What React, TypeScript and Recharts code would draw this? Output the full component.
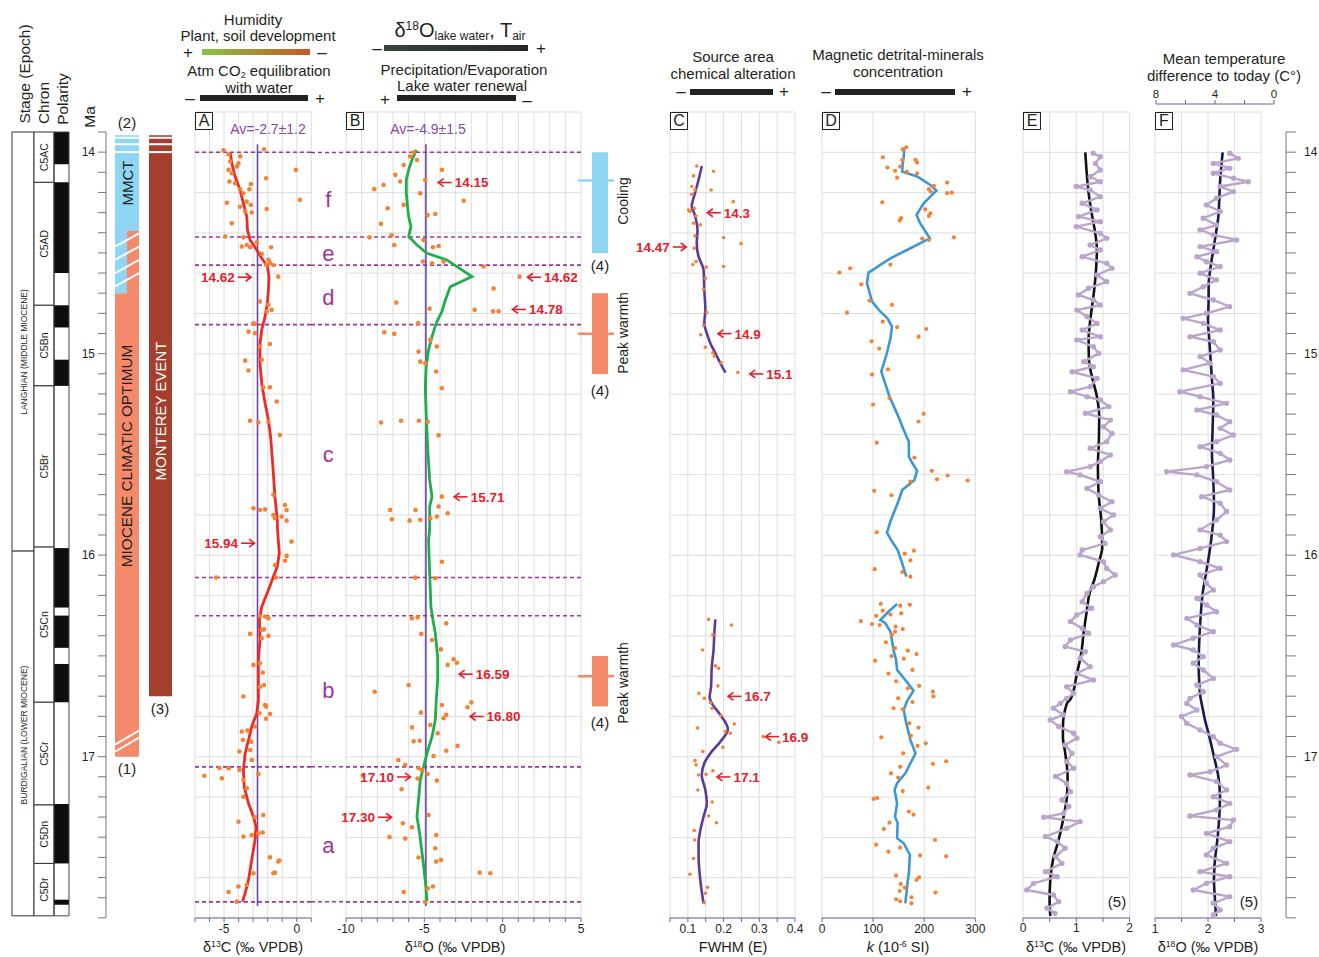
import React from "react";
import {
  ComposedChart,
  Scatter,
  Line,
  XAxis,
  YAxis,
  CartesianGrid,
  ReferenceLine,
  ReferenceArea,
} from "recharts";

const FONT = '"Liberation Sans", Arial, Helvetica, sans-serif';
const NARROW = '"Liberation Sans Narrow", "Liberation Sans", Arial, sans-serif';

const INK = "#231f20";
const ORANGE = "#f58232";
const RED = "#ee2a24";
const GREEN = "#1fae4b";
const AV_LINE = "#6c45ad";
const AV_TEXT = "#7e4ea8";
const ZONE = "#a0339c";
const C_LINE = "#5c3a9c";
const D_LINE = "#3c97d3";
const LILAC = "#bba5cb";
const AXIS = "#6b64a8";
const GRID = "#dedede";
const BLUE_BAR = "#8fd6f5";
const SALMON = "#f48a6a";
const BRICK = "#a53f2d";
const ARROW = "#e5202a";

// shared age scale (Ma grows downwards)
const MA_TOP = 13.8;
const MA_BOTTOM = 17.8;
const Y_TOP = 112;
const PX_PER_MA = 201.5;
const yOf = (ma: number) => Y_TOP + (ma - MA_TOP) * PX_PER_MA;

const steps = (from: number, to: number, step: number) => {
  const out: number[] = [];
  for (let t = from; t <= to + step / 2; t += step) out.push(Math.round(t * 100) / 100);
  return out;
};

const GRID_MA = steps(13.8, 17.8, 0.2);
const AGE_TICKS = steps(13.9, 17.8, 0.1);

type Row = [number, number];
const pts = (rows: Row[]) => rows.map(([ma, v]) => ({ ma, v }));

// ---- stratigraphy ----
const stages = [
  { name: "LANGHIAN (MIDDLE MIOCENE)", from: 13.9, to: 15.98 },
  { name: "BURDIGALIAN (LOWER MIOCENE)", from: 15.98, to: 17.79 },
];
const chrons = [
  { name: "C5AC", from: 13.9, to: 14.15 },
  { name: "C5AD", from: 14.15, to: 14.76 },
  { name: "C5Bn", from: 14.76, to: 15.16 },
  { name: "C5Br", from: 15.16, to: 15.96 },
  { name: "C5Cn", from: 15.96, to: 16.73 },
  { name: "C5Cr", from: 16.73, to: 17.24 },
  { name: "C5Dn", from: 17.24, to: 17.53 },
  { name: "C5Dr", from: 17.53, to: 17.79 },
];
const normalPolarity: Row[] = [
  [13.9, 14.06], [14.15, 14.6], [14.76, 14.87], [15.03, 15.16], [15.965, 16.26],
  [16.3, 16.46], [16.54, 16.73], [17.235, 17.53], [17.71, 17.735],
];

// ---- climate events ----
const mmct = { left: [13.915, 14.7] as Row, right: [13.915, 14.39] as Row };
const mco = { left: [14.7, 17.0] as Row, right: [14.39, 17.0] as Row };
const monterey: Row = [13.915, 16.7];
const barTopStripes = [13.928, 13.96, 13.999];
const transitionStripes = [14.402, 14.468, 14.534, 14.6];
const mcoEndStripes = [16.87, 16.905];
const coolingSpans = [{ from: 14.0, to: 14.5, mid: 14.14, fill: BLUE_BAR }];
const warmSpans = [
  { from: 14.7, to: 15.1, mid: 14.9, fill: SALMON },
  { from: 16.5, to: 16.75, mid: 16.6, fill: SALMON },
];

// ---- zones a-f ----
const zoneBounds = [14.0, 14.42, 14.56, 14.855, 16.11, 16.3, 17.05, 17.72];
const zoneLetters = [
  { ma: 14.23, label: "f" }, { ma: 14.5, label: "e" }, { ma: 14.72, label: "d" },
  { ma: 15.5, label: "c" }, { ma: 16.67, label: "b" }, { ma: 17.44, label: "a" },
];

// ---- A: d13C carbonates ----
const a13cAverage = -2.7;
const a13cTrend: Row[] = [
  [14.0, -4.58], [14.054, -4.47], [14.12, -4.24], [14.187, -3.9], [14.253, -3.67], [14.319, -3.44],
  [14.385, -3.39], [14.435, -3.21], [14.485, -2.75], [14.526, -2.41], [14.567, -2.02], [14.617, -1.91],
  [14.683, -1.95], [14.749, -2.02], [14.815, -2.18], [14.882, -2.41], [14.948, -2.53], [15.047, -2.53],
  [15.146, -2.41], [15.245, -2.18], [15.328, -1.95], [15.411, -1.8], [15.543, -1.66], [15.709, -1.5],
  [15.824, -1.34], [15.874, -1.32], [15.924, -1.27], [15.99, -1.2], [16.056, -1.34], [16.106, -1.61],
  [16.172, -1.95], [16.255, -2.41], [16.321, -2.57], [16.42, -2.53], [16.52, -2.64], [16.619, -2.64],
  [16.718, -2.64], [16.784, -2.75], [16.85, -3.1], [16.917, -3.32], [16.983, -3.55], [17.065, -3.67],
  [17.148, -3.62], [17.231, -3.32], [17.297, -2.98], [17.347, -2.8], [17.413, -2.87], [17.512, -3.1],
  [17.611, -3.32], [17.677, -3.55], [17.719, -3.73],
];
const a13cSamples: Row[] = [
  [13.99, -5.04], [14.01, -4.69], [14.02, -3.89], [13.985, -2.25], [14.055, -4.01], [14.046, -4.58],
  [14.087, -4.69], [14.104, -4.47], [14.071, -4.12], [14.087, -0.06], [14.129, -2.11], [14.145, -4.63],
  [14.154, -4.24], [14.183, -3.9], [14.157, -3.16], [14.183, -3.26], [14.203, -3.67], [14.236, 0.21],
  [14.25, -4.81], [14.245, -3.44], [14.261, -3.16], [14.27, -3.9], [14.281, -2.07], [14.294, -3.55],
  [14.299, -3.1], [14.352, -4.47], [14.418, -4.92], [14.422, -3.67], [14.468, -3.78], [14.46, -3.44],
  [14.471, -3.21], [14.448, -2.75], [14.504, -2.41], [14.471, -1.77], [14.534, -1.95], [14.55, -1.84],
  [14.559, -2.11], [14.559, -1.61], [14.617, -1.27], [14.741, -2.53], [14.757, -1.95], [14.782, -1.73],
  [14.79, -2.07], [14.848, -2.98], [14.852, -2.87], [14.89, -3.32], [14.898, -2.87], [14.964, -2.53],
  [14.951, -1.84], [15.034, -3.55], [15.083, -3.32], [15.03, -2.41], [15.166, -2.3], [15.166, -1.84],
  [15.237, -1.38], [15.332, -3.21], [15.341, -2.64], [15.337, -1.95], [15.403, -1.16], [15.767, -2.98],
  [15.775, -2.53], [15.772, -2.18], [15.7, -1.61], [15.75, -0.81], [15.775, -0.7], [15.8, -1.61],
  [15.808, -1.04], [15.828, -0.7], [15.816, -1.5], [15.932, -0.36], [16.003, -0.7], [16.027, -0.81],
  [16.048, -1.5], [16.11, -5.54], [16.11, -1.43], [16.301, -2.53], [16.304, -2.18], [16.313, -1.95],
  [16.371, -2.41], [16.367, -2.25], [16.39, -3.21], [16.4, -1.95], [16.412, -2.41], [16.544, -2.98],
  [16.536, -2.53], [16.582, -2.34], [16.701, -3.67], [16.652, -2.53], [16.644, -2.25], [16.743, -2.18],
  [16.751, -2.11], [16.788, -1.84], [16.784, -2.57], [16.811, -2.11], [16.875, -3.78], [16.87, -3.39],
  [16.85, -2.87], [16.917, -3.71], [16.925, -3.14], [16.974, -3.94], [16.966, -3.21], [17.016, -3.1],
  [17.057, -5.31], [17.057, -4.69], [17.065, -3.94], [17.094, -6.36], [17.107, -5.15], [17.085, -2.64],
  [17.115, -3.67], [17.156, -3.44], [17.198, -3.67], [17.322, -4.01], [17.3, -2.87], [17.289, -2.3],
  [17.396, -3.67], [17.388, -3.1], [17.38, -2.64], [17.376, -2.34], [17.499, -1.84], [17.515, -1.2],
  [17.52, -1.27], [17.575, -1.5], [17.578, -1.61], [17.578, -2.98], [17.636, -3.44], [17.644, -4.01],
  [17.671, -4.69], [17.719, -4.12],
];
const a13cNotes = [
  { ma: 14.62, dec: 2, v: -3.1, dir: "right" },
  { ma: 15.94, dec: 2, v: -2.87, dir: "right" },
];

// ---- B: d18O carbonates ----
const b18oAverage = -4.9;
const b18oTrend: Row[] = [
  [13.988, -5.51], [14.038, -5.79], [14.087, -6.0], [14.137, -6.15], [14.203, -6.15], [14.27, -6.07],
  [14.319, -6.0], [14.369, -5.85], [14.418, -6.0], [14.46, -5.47], [14.501, -4.83], [14.534, -3.56],
  [14.567, -2.92], [14.617, -1.96], [14.667, -3.34], [14.733, -3.66], [14.79, -3.88], [14.848, -4.24],
  [14.915, -4.51], [14.981, -4.73], [15.063, -4.88], [15.163, -4.94], [15.295, -4.88], [15.46, -4.79],
  [15.626, -4.66], [15.709, -4.51], [15.758, -4.66], [15.874, -4.66], [15.924, -4.73], [16.089, -4.66],
  [16.255, -4.58], [16.321, -4.45], [16.387, -4.3], [16.503, -4.15], [16.619, -4.15], [16.718, -4.24],
  [16.817, -4.3], [16.9, -4.51], [16.983, -4.83], [17.049, -5.05], [17.115, -5.26], [17.214, -5.37],
  [17.297, -5.47], [17.38, -5.3], [17.512, -5.09], [17.628, -4.92], [17.719, -4.83],
];
const b18oSamples: Row[] = [
  [14.0, -5.68], [14.021, -5.9], [14.038, -5.47], [14.063, -6.32], [14.112, -6.85], [14.145, -6.54],
  [14.162, -7.6], [14.183, -8.2], [14.087, -3.88], [14.137, -4.94], [14.203, -5.26], [14.241, -2.49],
  [14.261, -6.32], [14.278, -7.34], [14.306, -4.3], [14.311, -4.79], [14.355, -7.77], [14.422, -8.49],
  [14.412, -7.09], [14.46, -6.92], [14.435, -5.05], [14.471, -4.45], [14.465, -4.09], [14.542, -5.09],
  [14.551, -4.51], [14.542, -3.77], [14.567, -1.22], [14.617, 1.08], [14.676, -0.58], [14.746, -6.79],
  [14.776, -4.66], [14.782, -1.79], [14.789, -0.62], [14.789, -0.26], [14.848, -5.39], [14.893, -7.56],
  [14.901, -6.92], [14.931, -4.62], [14.964, -4.2], [14.989, -5.37], [15.039, -5.26], [15.047, -4.94],
  [15.088, -4.24], [15.171, -3.88], [15.341, -7.77], [15.332, -6.49], [15.332, -5.34], [15.337, -4.79],
  [15.404, -4.09], [15.709, -3.88], [15.775, -7.18], [15.775, -5.56], [15.758, -4.09], [15.791, -3.51],
  [15.821, -7.07], [15.828, -5.94], [15.824, -5.26], [15.816, -4.62], [15.808, -4.2], [16.032, -3.88],
  [16.111, -5.58], [16.114, -4.3], [16.313, -5.79], [16.308, -5.43], [16.338, -3.6], [16.39, -5.2],
  [16.42, -4.51], [16.467, -3.94], [16.516, -3.13], [16.533, -2.92], [16.544, -3.51], [16.644, -6.0],
  [16.677, -8.17], [16.743, -3.88], [16.754, -2.24], [16.73, -2.0], [16.781, -5.22], [16.792, -3.6],
  [16.809, -3.77], [16.854, -5.79], [16.842, -4.62], [16.92, -5.3], [16.923, -5.68], [16.883, -4.15],
  [16.946, -2.88], [16.97, -3.6], [16.996, -4.41], [17.016, -6.66], [17.041, -6.22], [17.057, -5.37],
  [17.065, -5.15], [17.094, -8.92], [17.108, -5.43], [17.085, -4.79], [17.118, -4.2], [17.161, -6.45],
  [17.289, -4.73], [17.33, -6.37], [17.35, -5.79], [17.398, -7.22], [17.406, -6.22], [17.388, -4.24],
  [17.454, -4.3], [17.5, -5.37], [17.52, -4.24], [17.512, -3.94], [17.575, -1.47], [17.578, -0.79],
  [17.671, -6.32], [17.644, -4.45], [17.653, -4.79], [17.719, -4.94],
];
const b18oNotes = [
  { ma: 14.15, dec: 2, v: -4.15, dir: "left" },
  { ma: 14.62, dec: 2, v: 1.55, dir: "left" },
  { ma: 14.78, dec: 2, v: 0.59, dir: "left" },
  { ma: 15.71, dec: 2, v: -3.13, dir: "left" },
  { ma: 16.59, dec: 2, v: -2.81, dir: "left" },
  { ma: 16.8, dec: 2, v: -2.11, dir: "left" },
  { ma: 17.1, dec: 2, v: -5.85, dir: "right" },
  { ma: 17.3, dec: 2, v: -7.06, dir: "right" },
];

// ---- C: clay crystallinity (FWHM) ----
const fwhmUpper: Row[] = [
  [14.068, 0.139], [14.137, 0.13], [14.203, 0.12], [14.27, 0.111], [14.303, 0.118], [14.336, 0.123],
  [14.385, 0.127], [14.451, 0.125], [14.518, 0.13], [14.584, 0.144], [14.683, 0.146], [14.782, 0.149],
  [14.848, 0.146], [14.898, 0.153], [14.948, 0.163], [14.997, 0.177], [15.047, 0.191], [15.093, 0.205],
];
const fwhmLower: Row[] = [
  [16.318, 0.177], [16.387, 0.174], [16.47, 0.172], [16.552, 0.167], [16.652, 0.165], [16.705, 0.161],
  [16.734, 0.167], [16.792, 0.191], [16.863, 0.212], [16.925, 0.191], [16.983, 0.163], [17.032, 0.146],
  [17.09, 0.139], [17.165, 0.149], [17.231, 0.153], [17.297, 0.144], [17.363, 0.135], [17.429, 0.13],
  [17.495, 0.13], [17.578, 0.133], [17.644, 0.137], [17.727, 0.144],
];
const fwhmSamples: Row[] = [
  [14.068, 0.125], [14.094, 0.172], [14.117, 0.116], [14.17, 0.111], [14.187, 0.12], [14.187, 0.165],
  [14.208, 0.111], [14.245, 0.227], [14.286, 0.102], [14.278, 0.118], [14.294, 0.106], [14.316, 0.123],
  [14.352, 0.116], [14.36, 0.135], [14.415, 0.12], [14.423, 0.2], [14.453, 0.249], [14.476, 0.118],
  [14.557, 0.114], [14.542, 0.123], [14.57, 0.151], [14.567, 0.2], [14.625, 0.149], [14.68, 0.144],
  [14.794, 0.153], [14.857, 0.144], [14.906, 0.136], [14.968, 0.149], [14.994, 0.17], [15.011, 0.174],
  [15.044, 0.193], [15.093, 0.24], [16.318, 0.158], [16.346, 0.222], [16.395, 0.17], [16.47, 0.141],
  [16.549, 0.177], [16.561, 0.186], [16.648, 0.184], [16.685, 0.131], [16.71, 0.146], [16.731, 0.163],
  [16.759, 0.168], [16.794, 0.193], [16.837, 0.23], [16.857, 0.127], [16.875, 0.205], [16.883, 0.219],
  [16.9, 0.311], [16.928, 0.355], [16.953, 0.198], [16.974, 0.142], [17.019, 0.12], [17.04, 0.123],
  [17.069, 0.17], [17.09, 0.13], [17.087, 0.151], [17.165, 0.128], [17.224, 0.168], [17.294, 0.158],
  [17.327, 0.18], [17.366, 0.118], [17.413, 0.119], [17.505, 0.116], [17.583, 0.106], [17.648, 0.155],
  [17.677, 0.149], [17.724, 0.146],
];
const fwhmNotes = [
  { ma: 14.3, dec: 1, v: 0.153, dir: "left" },
  { ma: 14.47, dec: 2, v: 0.097, dir: "right" },
  { ma: 14.9, dec: 1, v: 0.183, dir: "left" },
  { ma: 15.1, dec: 1, v: 0.272, dir: "left" },
  { ma: 16.7, dec: 1, v: 0.211, dir: "left" },
  { ma: 16.9, dec: 1, v: 0.316, dir: "left" },
  { ma: 17.1, dec: 1, v: 0.18, dir: "left" },
];

// ---- D: magnetic susceptibility ----
const kUpper: Row[] = [
  [13.975, 161], [14.021, 160], [14.054, 158], [14.096, 157], [14.12, 186], [14.162, 212],
  [14.19, 224], [14.22, 212], [14.253, 199], [14.311, 185], [14.352, 192], [14.427, 211],
  [14.476, 173], [14.526, 134], [14.559, 114], [14.576, 104], [14.597, 91], [14.65, 88],
  [14.741, 98], [14.79, 114], [14.824, 128], [14.865, 137], [14.923, 134], [15.006, 126],
  [15.088, 116], [15.212, 132], [15.303, 148], [15.378, 160], [15.436, 170], [15.51, 170],
  [15.552, 179], [15.58, 186], [15.626, 181], [15.676, 157], [15.742, 148], [15.824, 135],
  [15.887, 127], [15.932, 137], [15.973, 148], [16.04, 157], [16.106, 165],
];
const kLower: Row[] = [
  [16.241, 147], [16.28, 130], [16.321, 114], [16.337, 124], [16.379, 134], [16.47, 140],
  [16.519, 145], [16.569, 147], [16.619, 163], [16.672, 179], [16.726, 166], [16.768, 160],
  [16.834, 165], [16.916, 173], [16.983, 183], [17.032, 173], [17.082, 163], [17.131, 147],
  [17.165, 142], [17.231, 147], [17.297, 143], [17.33, 148], [17.404, 147], [17.429, 160],
  [17.487, 172], [17.578, 170], [17.611, 168], [17.661, 166], [17.727, 163],
];
const kSamples: Row[] = [
  [13.975, 165], [13.985, 158], [14.025, 119], [14.038, 157], [14.038, 183], [14.051, 186],
  [14.076, 128], [14.071, 153], [14.092, 143], [14.096, 166], [14.104, 186], [14.126, 147],
  [14.167, 219], [14.15, 245], [14.183, 209], [14.195, 213], [14.203, 245], [14.2, 254],
  [14.248, 118], [14.283, 202], [14.303, 212], [14.316, 209], [14.327, 155], [14.339, 152],
  [14.428, 196], [14.435, 209], [14.422, 258], [14.557, 134], [14.597, 34], [14.576, 55],
  [14.655, 77], [14.736, 93], [14.757, 137], [14.796, 49], [14.84, 119], [14.868, 147],
  [14.877, 204], [14.915, 189], [14.938, 97], [14.974, 112], [15.077, 129], [15.103, 98],
  [15.219, 132], [15.252, 100], [15.298, 199], [15.336, 189], [15.441, 107], [15.515, 181],
  [15.581, 215], [15.623, 225], [15.604, 246], [15.629, 285], [15.634, 173], [15.68, 102],
  [15.702, 136], [15.886, 107], [15.992, 162], [15.977, 180], [16.025, 173], [16.069, 103],
  [16.083, 157], [16.106, 173], [16.241, 115], [16.25, 153], [16.246, 172], [16.275, 119],
  [16.288, 155], [16.301, 106], [16.294, 134], [16.327, 76], [16.341, 98], [16.346, 113],
  [16.354, 144], [16.366, 158], [16.379, 143], [16.395, 137], [16.432, 125], [16.49, 185],
  [16.461, 143], [16.473, 168], [16.5, 136], [16.523, 104], [16.513, 160], [16.569, 177],
  [16.587, 130], [16.625, 145], [16.648, 190], [16.66, 168], [16.677, 217], [16.7, 218],
  [16.71, 149], [16.728, 177], [16.759, 140], [16.764, 158], [16.834, 171], [16.855, 189],
  [16.903, 116], [16.895, 174], [16.933, 203], [16.946, 187], [16.983, 159], [17.035, 217],
  [17.022, 243], [17.05, 153], [17.082, 135], [17.103, 149], [17.153, 208], [17.17, 158],
  [17.209, 101], [17.204, 108], [17.272, 170], [17.287, 179], [17.327, 132], [17.358, 121],
  [17.413, 221], [17.436, 106], [17.451, 153], [17.471, 130], [17.489, 192], [17.494, 243],
  [17.59, 145], [17.598, 190], [17.611, 185], [17.649, 162], [17.631, 154], [17.666, 152],
  [17.674, 222], [17.697, 175], [17.707, 145], [17.717, 153], [17.727, 175],
];

// ---- E: benthic d13C ----
const eTrend: Row[] = [
  [14.0, 1.168], [14.071, 1.187], [14.154, 1.212], [14.237, 1.249], [14.319, 1.299], [14.402, 1.356],
  [14.485, 1.387], [14.567, 1.374], [14.667, 1.343], [14.733, 1.312], [14.832, 1.262], [14.932, 1.231],
  [15.031, 1.237], [15.113, 1.293], [15.213, 1.387], [15.312, 1.43], [15.428, 1.424], [15.56, 1.405],
  [15.692, 1.418], [15.825, 1.468], [15.957, 1.487], [16.04, 1.418], [16.123, 1.337], [16.189, 1.249],
  [16.271, 1.199], [16.387, 1.137], [16.486, 1.093], [16.586, 1.012], [16.71, 0.899], [16.735, 0.824],
  [16.85, 0.749], [16.9, 0.749], [16.983, 0.793], [17.098, 0.837], [17.198, 0.824], [17.297, 0.762],
  [17.413, 0.668], [17.512, 0.562], [17.611, 0.512], [17.71, 0.499], [17.79, 0.512],
];
const eRecord: Row[] = [
  [14.005, 1.32], [14.022, 1.45], [14.055, 1.36], [14.088, 1.45], [14.121, 1.26], [14.146, 1.45],
  [14.17, 1.0], [14.187, 1.26], [14.22, 1.45], [14.253, 1.11], [14.286, 1.39], [14.319, 1.04],
  [14.344, 1.45], [14.369, 1.0], [14.402, 1.45], [14.427, 1.57], [14.46, 1.26], [14.485, 1.45],
  [14.518, 1.11], [14.551, 1.57], [14.576, 1.67], [14.609, 1.39], [14.642, 1.57], [14.675, 1.23],
  [14.708, 1.04], [14.733, 1.32], [14.758, 1.45], [14.783, 1.01], [14.816, 1.2], [14.849, 1.39],
  [14.882, 1.11], [14.915, 1.45], [14.931, 1.01], [14.965, 1.32], [14.998, 1.42], [15.039, 1.14],
  [15.064, 1.32], [15.089, 0.92], [15.122, 1.39], [15.163, 1.26], [15.188, 0.89], [15.213, 1.2],
  [15.229, 1.45], [15.262, 1.61], [15.295, 1.17], [15.329, 1.64], [15.362, 1.51], [15.395, 1.67],
  [15.436, 1.57], [15.469, 1.26], [15.502, 1.64], [15.535, 1.45], [15.56, 1.26], [15.585, 0.82],
  [15.601, 1.07], [15.635, 1.45], [15.668, 1.2], [15.701, 1.42], [15.734, 1.67], [15.767, 1.45],
  [15.8, 1.7], [15.833, 1.51], [15.874, 1.64], [15.908, 1.45], [15.941, 1.54], [15.974, 1.11],
  [15.998, 1.07], [16.032, 1.51], [16.065, 1.57], [16.098, 1.73], [16.131, 1.51], [16.156, 1.32],
  [16.189, 1.2], [16.23, 1.11], [16.263, 1.29], [16.296, 1.01], [16.329, 0.89], [16.362, 1.11],
  [16.387, 1.23], [16.42, 0.89], [16.453, 0.79], [16.478, 1.17], [16.511, 1.07], [16.553, 1.26],
  [16.586, 1.01], [16.619, 1.32], [16.652, 0.82], [16.685, 0.95], [16.71, 0.82], [16.735, 0.7],
  [16.759, 0.57], [16.792, 0.76], [16.817, 0.51], [16.85, 0.67], [16.883, 0.95], [16.908, 1.01],
  [16.941, 0.79], [16.983, 0.92], [17.024, 0.82], [17.057, 0.95], [17.098, 0.61], [17.132, 0.82],
  [17.173, 0.89], [17.214, 0.73], [17.247, 0.86], [17.281, 0.76], [17.3, 0.39], [17.322, 1.07],
  [17.355, 0.82], [17.396, 0.42], [17.421, 0.64], [17.454, 0.79], [17.495, 0.61], [17.529, 0.73],
  [17.57, 0.42], [17.595, 0.64], [17.628, 0.2], [17.661, 0.07], [17.686, 0.57], [17.719, 0.67],
  [17.752, 0.45], [17.777, 0.6],
];

// ---- F: benthic d18O ----
const fTrend: Row[] = [
  [14.0, 2.276], [14.071, 2.251], [14.154, 2.226], [14.237, 2.213], [14.319, 2.195], [14.402, 2.15],
  [14.485, 2.1], [14.567, 2.05], [14.667, 2.012], [14.733, 2.012], [14.832, 2.0], [14.932, 2.025],
  [15.031, 2.05], [15.13, 2.075], [15.229, 2.1], [15.362, 2.088], [15.494, 2.075], [15.626, 2.1],
  [15.759, 2.113], [15.891, 2.075], [15.99, 2.025], [16.09, 1.962], [16.189, 1.899], [16.305, 1.861],
  [16.42, 1.836], [16.536, 1.824], [16.635, 1.836], [16.71, 1.861], [16.735, 1.88], [16.817, 1.943],
  [16.9, 2.025], [16.999, 2.113], [17.098, 2.195], [17.198, 2.226], [17.297, 2.213], [17.413, 2.176],
  [17.512, 2.132], [17.611, 2.113], [17.71, 2.132], [17.79, 2.151],
];
const fRecord: Row[] = [
  [14.005, 2.41], [14.03, 2.57], [14.055, 2.1], [14.079, 2.41], [14.104, 2.1], [14.129, 2.48],
  [14.146, 2.76], [14.17, 2.23], [14.195, 2.48], [14.228, 2.16], [14.261, 1.97], [14.294, 2.23],
  [14.327, 1.91], [14.361, 2.16], [14.385, 1.85], [14.41, 2.1], [14.435, 2.54], [14.468, 1.85],
  [14.493, 2.16], [14.518, 1.79], [14.543, 1.97], [14.567, 2.23], [14.6, 1.85], [14.633, 2.16],
  [14.667, 1.91], [14.7, 1.66], [14.733, 2.1], [14.766, 2.41], [14.799, 1.97], [14.824, 1.53],
  [14.849, 1.91], [14.882, 2.23], [14.915, 1.66], [14.94, 2.1], [14.981, 2.23], [15.014, 1.85],
  [15.047, 2.04], [15.08, 1.53], [15.113, 2.1], [15.147, 2.23], [15.188, 1.47], [15.213, 1.85],
  [15.246, 2.35], [15.279, 1.79], [15.304, 2.16], [15.337, 2.41], [15.37, 2.23], [15.403, 2.48],
  [15.436, 2.16], [15.461, 1.85], [15.494, 2.23], [15.527, 2.41], [15.56, 1.97], [15.585, 1.22],
  [15.601, 1.79], [15.635, 2.16], [15.676, 2.41], [15.709, 1.88], [15.742, 2.23], [15.783, 2.35],
  [15.825, 2.16], [15.874, 1.85], [15.9, 2.23], [15.932, 2.35], [15.966, 1.85], [15.998, 1.35],
  [16.032, 1.85], [16.065, 2.23], [16.098, 1.85], [16.139, 1.97], [16.172, 2.1], [16.214, 1.79],
  [16.247, 1.97], [16.28, 2.16], [16.313, 1.6], [16.346, 1.79], [16.379, 2.1], [16.412, 1.72],
  [16.445, 1.35], [16.47, 1.72], [16.503, 1.91], [16.536, 1.72], [16.569, 1.91], [16.611, 2.1],
  [16.644, 1.79], [16.677, 1.91], [16.71, 1.66], [16.735, 1.6], [16.768, 1.79], [16.8, 1.5],
  [16.834, 1.6], [16.867, 1.85], [16.9, 2.1], [16.933, 2.23], [16.963, 2.54], [16.999, 2.16],
  [17.041, 2.35], [17.074, 2.04], [17.09, 1.66], [17.123, 2.16], [17.165, 2.35], [17.198, 2.1],
  [17.231, 2.41], [17.264, 2.16], [17.294, 1.66], [17.314, 2.48], [17.347, 2.41], [17.38, 1.97],
  [17.421, 2.41], [17.454, 2.1], [17.487, 1.97], [17.529, 2.35], [17.57, 1.85], [17.595, 2.41],
  [17.628, 1.97], [17.661, 1.72], [17.694, 2.41], [17.727, 2.1], [17.76, 2.23], [17.785, 2.1],
];

// ---------------------------------------------------------------------------

const PAD = 40;
const PAD_T = 10;
const AXIS_H = 22;
const PLOT_H = yOf(MA_BOTTOM) - Y_TOP;

function Txt({ x, y, size = 15, rotate = 0, color = INK, weight, family = FONT, lh = 1, children }: any) {
  return (
    <div
      style={{
        position: "absolute",
        left: x,
        top: y,
        transform: `translate(-50%, -50%) rotate(${rotate}deg)`,
        fontSize: size,
        color,
        fontFamily: family,
        fontWeight: weight,
        whiteSpace: "nowrap",
        lineHeight: lh,
      }}
    >
      {children}
    </div>
  );
}

// the +/- signs flanking the header bars
const Sign = ({ x, y, s }: any) => (
  <Txt x={x} y={y} size={17} lh={0.6}>{s}</Txt>
);

function Bar({ left, top, width, background = "#222", height = 6 }: any) {
  return <div style={{ position: "absolute", left, top, width, height, background }} />;
}

function Tag({ x, children }: { x: number; children: string }) {
  return (
    <div
      style={{
        position: "absolute",
        left: x,
        top: Y_TOP,
        width: 16,
        height: 16,
        border: `1px solid ${INK}`,
        background: "#fff",
        fontFamily: FONT,
        fontSize: 16,
        lineHeight: "16px",
        textAlign: "center",
        color: INK,
      }}
    >
      {children}
    </div>
  );
}

const Dot = (r: number, fill: string) => (p: any) =>
  p.cx == null ? <g /> : <circle cx={p.cx} cy={p.cy} r={r} fill={fill} />;
const Blank = () => <g />;

function Callout(p: any) {
  const { cx, cy, payload } = p;
  if (cx == null) return <g />;
  const text = payload.ma.toFixed(payload.dec);
  const textStyle = { fontFamily: NARROW, fontSize: 13.5, fontWeight: 700, fill: ARROW };
  if (payload.dir === "left") {
    return (
      <g>
        <line x1={cx + 1} y1={cy} x2={cx + 14} y2={cy} stroke={ARROW} strokeWidth={1.6} />
        <path d={`M${cx + 6},${cy - 4} L${cx + 0.5},${cy} L${cx + 6},${cy + 4}`} fill="none" stroke={ARROW} strokeWidth={1.6} />
        <text x={cx + 17} y={cy} dy="0.36em" textAnchor="start" {...textStyle}>{text}</text>
      </g>
    );
  }
  return (
    <g>
      <line x1={cx - 14} y1={cy} x2={cx - 1} y2={cy} stroke={ARROW} strokeWidth={1.6} />
      <path d={`M${cx - 6},${cy - 4} L${cx - 0.5},${cy} L${cx - 6},${cy + 4}`} fill="none" stroke={ARROW} strokeWidth={1.6} />
      <text x={cx - 17} y={cy} dy="0.36em" textAnchor="end" {...textStyle}>{text}</text>
    </g>
  );
}

function Panel({ x0, x1, domain, ticks, label, grid, children }: any) {
  const w = x1 - x0;
  return (
    <div style={{ position: "absolute", left: x0 - PAD, top: Y_TOP - PAD_T }}>
      <ComposedChart
        layout="vertical"
        width={w + 2 * PAD}
        height={PAD_T + PLOT_H + AXIS_H}
        margin={{ top: PAD_T, right: PAD, bottom: 0, left: PAD }}
      >
        <CartesianGrid stroke={GRID} strokeWidth={1} horizontalValues={GRID_MA} verticalValues={grid} />
        <XAxis
          type="number"
          dataKey="v"
          domain={domain}
          ticks={ticks}
          interval={0}
          height={AXIS_H}
          tickSize={4}
          tickFormatter={label}
          axisLine={{ stroke: AXIS, strokeWidth: 1.2 }}
          tickLine={{ stroke: AXIS }}
          tick={{ fontSize: 12, fill: INK, fontFamily: FONT }}
        />
        <YAxis type="number" dataKey="ma" domain={[MA_TOP, MA_BOTTOM]} hide />
        {children}
      </ComposedChart>
    </div>
  );
}

// a strip sharing the age scale; the invisible anchor series gives the axes their range
function Column({ left, width, from = MA_TOP, to = MA_BOTTOM, children }: any) {
  const top = yOf(from);
  return (
    <div style={{ position: "absolute", left, top }}>
      <ComposedChart
        layout="vertical"
        width={width}
        height={yOf(to) - top}
        margin={{ top: 0, right: 0, bottom: 0, left: 0 }}
      >
        <XAxis type="number" dataKey="v" domain={[0, 1]} hide />
        <YAxis type="number" dataKey="ma" domain={[from, to]} hide />
        <Scatter data={[{ ma: from, v: 0 }, { ma: to, v: 1 }]} shape={Blank} isAnimationActive={false} />
        {children}
      </ComposedChart>
    </div>
  );
}

const zoneLines = zoneBounds.map((b) => (
  <ReferenceLine key={`z${b}`} y={b} stroke={ZONE} strokeWidth={1.6} strokeDasharray="4 3" />
));

const intLabel = (t: number) => (Number.isInteger(t) ? String(t) : "");
const fiveLabel = (t: number) => (t % 5 === 0 ? String(t) : "");

function AgeAxis({ side }: { side: "left" | "right" }) {
  const top = yOf(13.9);
  const h = yOf(MA_BOTTOM) - top;
  const axisX = side === "left" ? 106 : 1286;
  const yw = side === "left" ? 40 : 34;
  return (
    <div style={{ position: "absolute", left: side === "left" ? axisX - yw : axisX - 2, top }}>
      <ComposedChart layout="vertical" width={yw + 2} height={h} margin={{ top: 0, right: 0, bottom: 0, left: 0 }}>
        <XAxis type="number" dataKey="v" domain={[0, 1]} hide />
        <YAxis
          type="number"
          dataKey="ma"
          orientation={side}
          domain={[13.9, MA_BOTTOM]}
          ticks={AGE_TICKS}
          interval={0}
          width={yw}
          tickSize={side === "left" ? 8 : 10}
          tickMargin={side === "left" ? 3 : 8}
          tickFormatter={intLabel}
          axisLine={{ stroke: "#777" }}
          tickLine={{ stroke: "#777" }}
          tick={{ fontSize: 12, fill: INK, fontFamily: FONT }}
        />
        <Scatter data={AGE_TICKS.map((ma) => ({ ma, v: 0 }))} shape={Blank} isAnimationActive={false} />
      </ComposedChart>
    </div>
  );
}

const TEMP_TICKS = [0, 2, 4, 6, 8];

const axisTitle = (x: number, main: React.ReactNode) => (
  <Txt x={x} y={947} size={14.5}>{main}</Txt>
);
const sup = (s: string) => <sup style={{ fontSize: "0.6em", verticalAlign: "0.55em", lineHeight: 0 }}>{s}</sup>;
const sub = (s: string) => <sub style={{ fontSize: "0.6em", verticalAlign: "-0.25em", lineHeight: 0 }}>{s}</sub>;

export default function App() {
  return (
    <div style={{ position: "relative", width: 1319, height: 957, background: "#fff", overflow: "hidden", fontFamily: FONT }}>
      <style>{`body{margin:0} .recharts-surface{overflow:visible}`}</style>

      {/* stratigraphic column */}
      <Txt x={25} y={74} rotate={-90} size={15.5}>Stage (Epoch)</Txt>
      <Txt x={44} y={103} rotate={-90} size={15.5}>Chron</Txt>
      <Txt x={63} y={99} rotate={-90} size={15.5}>Polarity</Txt>
      <Txt x={90} y={117} rotate={-90} size={15.5}>Ma</Txt>

      <Column left={12.3} width={22} from={13.9} to={17.79}>
        {stages.map((s) => (
          <ReferenceArea key={s.name} y1={s.from} y2={s.to} fill="#fff" fillOpacity={1} stroke="#333" strokeWidth={1} />
        ))}
      </Column>
      <Txt x={24} y={352} rotate={-90} size={8.5}>{stages[0].name}</Txt>
      <Txt x={24} y={735} rotate={-90} size={8.5}>{stages[1].name}</Txt>

      <Column left={34.3} width={20} from={13.9} to={17.79}>
        {chrons.map((c) => (
          <ReferenceArea
            key={c.name}
            y1={c.from}
            y2={c.to}
            fill="#fff"
            fillOpacity={1}
            stroke="#333"
            strokeWidth={1}
            label={{ value: c.name, angle: -90, position: "center", fontSize: 10.5, fill: INK, fontFamily: FONT }}
          />
        ))}
      </Column>

      <Column left={54.3} width={15} from={13.9} to={17.79}>
        {normalPolarity.map(([a, b]) => (
          <ReferenceArea key={a} y1={a} y2={b} fill="#0d0d0f" fillOpacity={1} stroke="none" />
        ))}
        <ReferenceArea y1={13.9} y2={17.79} fill="none" stroke="#444" strokeWidth={1} />
      </Column>

      <AgeAxis side="left" />

      {/* climate events */}
      <Column left={115} width={12}>
        <ReferenceArea y1={mmct.left[0]} y2={mmct.left[1]} fill={BLUE_BAR} fillOpacity={1} stroke="none" />
        <ReferenceArea y1={mco.left[0]} y2={mco.left[1]} fill={SALMON} fillOpacity={1} stroke="none" />
      </Column>
      <Column left={127} width={12}>
        <ReferenceArea y1={mmct.right[0]} y2={mmct.right[1]} fill={BLUE_BAR} fillOpacity={1} stroke="none" />
        <ReferenceArea y1={mco.right[0]} y2={mco.right[1]} fill={SALMON} fillOpacity={1} stroke="none" />
      </Column>
      <Column left={115} width={24}>
        {barTopStripes.map((s) => (
          <ReferenceLine key={s} y={s} stroke="#fff" strokeWidth={2} />
        ))}
        {transitionStripes.map((s) => (
          <ReferenceLine key={s} segment={[{ x: 0, y: s + 0.066 }, { x: 1, y: s }]} stroke="#fff" strokeWidth={2} />
        ))}
        {mcoEndStripes.map((s) => (
          <ReferenceLine key={s} segment={[{ x: 0, y: s + 0.07 }, { x: 1, y: s }]} stroke="#fff" strokeWidth={2} />
        ))}
      </Column>
      <Column left={148.7} width={23}>
        <ReferenceArea y1={monterey[0]} y2={monterey[1]} fill={BRICK} fillOpacity={1} stroke="none" />
        {barTopStripes.map((s) => (
          <ReferenceLine key={s} y={s} stroke="#fff" strokeWidth={2} />
        ))}
      </Column>
      <Txt x={127} y={122} size={15}>(2)</Txt>
      <Txt x={127} y={183} rotate={-90} size={15}>MMCT</Txt>
      <Txt x={127} y={456} rotate={-90} size={15.3}>MIOCENE CLIMATIC OPTIMUM</Txt>
      <Txt x={127} y={768} size={15}>(1)</Txt>
      <Txt x={160} y={411} rotate={-90} size={15} color="#fff">MONTEREY EVENT</Txt>
      <Txt x={160} y={708} size={15}>(3)</Txt>

      {/* header: A */}
      <Txt x={253} y={19} size={15}>Humidity</Txt>
      <Txt x={258} y={35} size={15}>Plant, soil development</Txt>
      <Sign x={188} y={53} s="+" />
      <Bar left={202} top={49} width={108} background="linear-gradient(90deg,#86c540,#a8892f 55%,#c7562a)" />
      <Sign x={322} y={53} s="–" />
      <Txt x={259} y={70} size={15}>Atm CO{sub("2")} equilibration</Txt>
      <Txt x={259} y={87} size={15}>with water</Txt>
      <Sign x={190} y={99} s="–" />
      <Bar left={200} top={95} width={108} />
      <Sign x={320} y={99} s="+" />

      {/* header: B */}
      <Txt x={460} y={30} size={20}>δ{sup("18")}O{sub("lake water")}, T{sub("air")}</Txt>
      <Sign x={377} y={49} s="–" />
      <Bar left={384} top={45} width={144} background="linear-gradient(90deg,#34463a,#26272a)" />
      <Sign x={541} y={49} s="+" />
      <Txt x={464} y={69} size={15}>Precipitation/Evaporation</Txt>
      <Txt x={462} y={85} size={15}>Lake water renewal</Txt>
      <Sign x={385} y={100} s="+" />
      <Bar left={397} top={95} width={119} />
      <Sign x={527} y={101} s="–" />

      {/* header: C, D, F */}
      <Txt x={733} y={56} size={15}>Source area</Txt>
      <Txt x={733} y={73} size={15}>chemical alteration</Txt>
      <Sign x={681} y={92} s="–" />
      <Bar left={690} top={89} width={83} />
      <Sign x={784} y={92} s="+" />
      <Txt x={898} y={54} size={15}>Magnetic detrital-minerals</Txt>
      <Txt x={898} y={71} size={15}>concentration</Txt>
      <Sign x={826} y={92} s="–" />
      <Bar left={835} top={89} width={120} />
      <Sign x={967} y={92} s="+" />
      <Txt x={1224} y={58} size={15}>Mean temperature</Txt>
      <Txt x={1224} y={75} size={15}>difference to today (C°)</Txt>
      <div style={{ position: "absolute", left: 1156, top: 84 }}>
        <ComposedChart layout="vertical" width={118} height={22} margin={{ top: 0, right: 0, bottom: 0, left: 0 }}>
          <XAxis
            type="number"
            dataKey="v"
            orientation="top"
            domain={[0, 8]}
            reversed
            ticks={TEMP_TICKS}
            interval={0}
            height={20}
            tickSize={4}
            tickFormatter={(t: number) => (t % 4 === 0 ? String(t) : "")}
            axisLine={{ stroke: AXIS }}
            tickLine={{ stroke: AXIS }}
            tick={{ fontSize: 11.5, fill: INK, fontFamily: FONT }}
          />
          <YAxis type="number" dataKey="ma" domain={[0, 1]} hide />
          <Scatter data={TEMP_TICKS.map((v) => ({ v, ma: 0.5 }))} shape={Blank} isAnimationActive={false} />
        </ComposedChart>
      </div>

      {/* A */}
      <Panel x0={194.7} x1={311} domain={[-7, 1]} ticks={steps(-7, 1, 1)} grid={steps(-7, 1, 1)} label={fiveLabel}>
        {zoneLines}
        <ReferenceLine segment={[{ x: a13cAverage, y: 13.96 }, { x: a13cAverage, y: 17.74 }]} stroke={AV_LINE} strokeWidth={1.6} />
        <Scatter data={pts(a13cSamples)} shape={Dot(2.3, ORANGE)} isAnimationActive={false} />
        <Line data={pts(a13cTrend)} dataKey="v" type="linear" stroke={RED} strokeWidth={2.8} dot={false} isAnimationActive={false} />
        <Scatter data={a13cNotes} shape={Callout} isAnimationActive={false} />
      </Panel>

      {/* gap between A and B holding the zone letters */}
      <Column left={311} width={34.7}>
        {zoneLines}
        {zoneLetters.map((z) => (
          <ReferenceLine
            key={z.label}
            y={z.ma}
            stroke="none"
            label={{ value: z.label, position: "center", fontSize: 22, fill: ZONE, fontFamily: FONT }}
          />
        ))}
      </Column>

      {/* B */}
      <Panel x0={345.7} x1={580.7} domain={[-10, 5]} ticks={steps(-10, 5, 1)} grid={steps(-10, 5, 1)} label={fiveLabel}>
        {zoneLines}
        <ReferenceLine segment={[{ x: b18oAverage, y: 13.96 }, { x: b18oAverage, y: 17.74 }]} stroke={AV_LINE} strokeWidth={1.6} />
        <Scatter data={pts(b18oSamples)} shape={Dot(2.3, ORANGE)} isAnimationActive={false} />
        <Line data={pts(b18oTrend)} dataKey="v" type="linear" stroke={GREEN} strokeWidth={2.8} dot={false} isAnimationActive={false} />
        <Scatter data={b18oNotes} shape={Callout} isAnimationActive={false} />
      </Panel>

      <Tag x={195}>A</Tag>
      <Tag x={346}>B</Tag>
      <Txt x={268} y={129} size={14} color={AV_TEXT}>Av=-2.7±1.2</Txt>
      <Txt x={428} y={129} size={14} color={AV_TEXT}>Av=-4.9±1.5</Txt>
      {axisTitle(253, <>δ{sup("13")}C (‰ VPDB)</>)}
      {axisTitle(455, <>δ{sup("18")}O (‰ VPDB)</>)}

      {/* cooling / peak warmth */}
      <Column left={592} width={16}>
        {[...coolingSpans, ...warmSpans].map((s) => (
          <ReferenceArea key={s.from} y1={s.from} y2={s.to} fill={s.fill} fillOpacity={1} stroke="none" />
        ))}
      </Column>
      <Column left={578} width={36}>
        {[...coolingSpans, ...warmSpans].map((s) => (
          <ReferenceLine key={s.mid} y={s.mid} stroke={s.fill} strokeWidth={2.5} />
        ))}
      </Column>
      <Txt x={623} y={201} rotate={-90} size={14}>Cooling</Txt>
      <Txt x={600} y={265} size={15}>(4)</Txt>
      <Txt x={623} y={333} rotate={-90} size={14}>Peak warmth</Txt>
      <Txt x={600} y={390} size={15}>(4)</Txt>
      <Txt x={623} y={683} rotate={-90} size={14}>Peak warmth</Txt>
      <Txt x={600} y={722} size={15}>(4)</Txt>

      {/* C */}
      <Panel
        x0={670}
        x1={795}
        domain={[0.05, 0.4]}
        ticks={steps(0.05, 0.4, 0.05)}
        grid={steps(0.05, 0.4, 0.05)}
        label={(t: number) => (Math.round(t * 100) % 10 === 0 ? String(t) : "")}
      >
        <Scatter data={pts(fwhmSamples)} shape={Dot(1.8, ORANGE)} isAnimationActive={false} />
        <Line data={pts(fwhmUpper)} dataKey="v" type="monotone" stroke={C_LINE} strokeWidth={2.6} dot={false} isAnimationActive={false} />
        <Line data={pts(fwhmLower)} dataKey="v" type="monotone" stroke={C_LINE} strokeWidth={2.6} dot={false} isAnimationActive={false} />
        <Scatter data={fwhmNotes} shape={Callout} isAnimationActive={false} />
      </Panel>
      <Tag x={670}>C</Tag>
      {axisTitle(733, <>FWHM (E)</>)}

      {/* D */}
      <Panel x0={821.7} x1={975} domain={[0, 300]} ticks={[0, 100, 200, 300]} grid={[0, 100, 200, 300]} label={(t: number) => String(t)}>
        <Scatter data={pts(kSamples)} shape={Dot(2.1, ORANGE)} isAnimationActive={false} />
        <Line data={pts(kUpper)} dataKey="v" type="linear" stroke={D_LINE} strokeWidth={2.6} dot={false} isAnimationActive={false} />
        <Line data={pts(kLower)} dataKey="v" type="linear" stroke={D_LINE} strokeWidth={2.6} dot={false} isAnimationActive={false} />
      </Panel>
      <Tag x={822}>D</Tag>
      {axisTitle(898, <><i>k</i> (10{sup("-6")} SI)</>)}

      {/* E */}
      <Panel x0={1022.7} x1={1129.3} domain={[0, 2]} ticks={steps(0, 2, 0.5)} grid={steps(0, 2, 0.5)} label={intLabel}>
        <Scatter
          data={pts(eRecord)}
          shape={Dot(2.7, LILAC)}
          line={{ stroke: LILAC, strokeWidth: 2.4, strokeLinejoin: "round" }}
          lineType="joint"
          isAnimationActive={false}
        />
        <Line data={pts(eTrend)} dataKey="v" type="monotone" stroke="#111" strokeWidth={2.6} dot={false} isAnimationActive={false} />
      </Panel>
      <Tag x={1023}>E</Tag>
      <Txt x={1117} y={901} size={15}>(5)</Txt>
      {axisTitle(1076, <>δ{sup("13")}C (‰ VPDB)</>)}

      {/* F */}
      <Panel x0={1155} x1={1261} domain={[1, 3]} ticks={steps(1, 3, 0.5)} grid={steps(1, 3, 0.5)} label={intLabel}>
        <Scatter
          data={pts(fRecord)}
          shape={Dot(2.7, LILAC)}
          line={{ stroke: LILAC, strokeWidth: 2.4, strokeLinejoin: "round" }}
          lineType="joint"
          isAnimationActive={false}
        />
        <Line data={pts(fTrend)} dataKey="v" type="monotone" stroke="#161a4b" strokeWidth={2.6} dot={false} isAnimationActive={false} />
      </Panel>
      <Tag x={1155}>F</Tag>
      <Txt x={1249} y={901} size={15}>(5)</Txt>
      {axisTitle(1208, <>δ{sup("18")}O (‰ VPDB)</>)}

      <AgeAxis side="right" />
    </div>
  );
}
